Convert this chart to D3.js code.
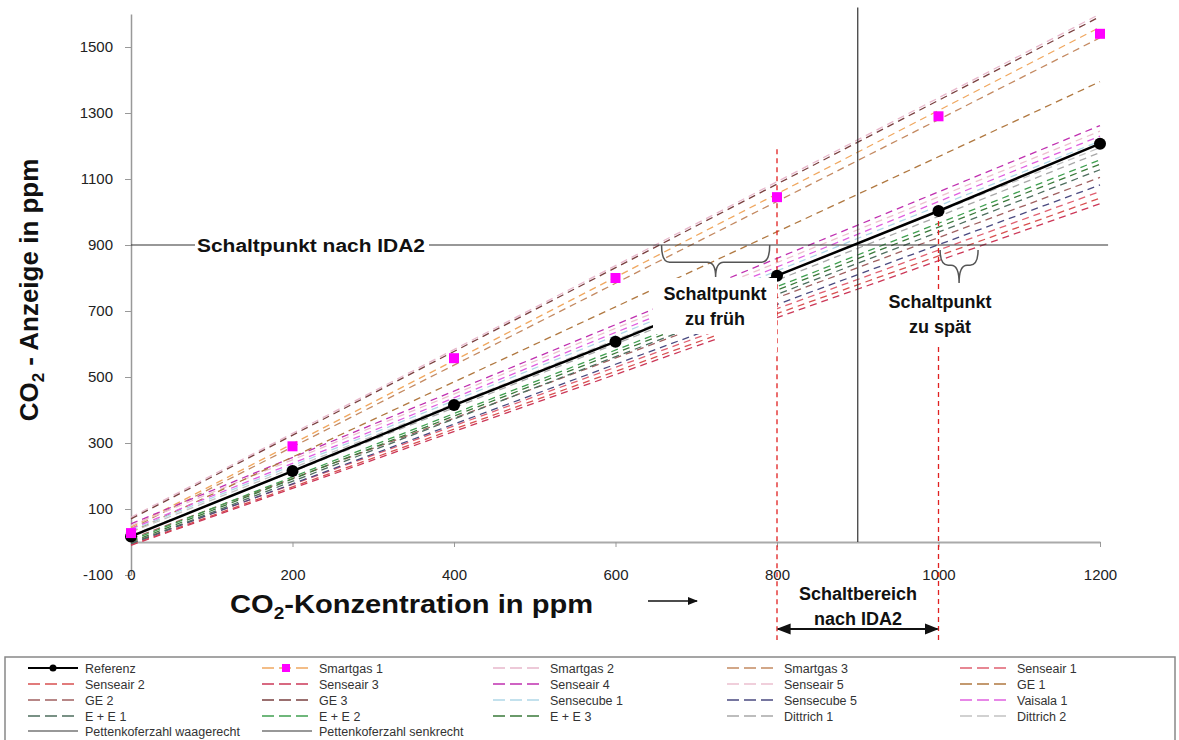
<!DOCTYPE html>
<html><head><meta charset="utf-8">
<script src="https://cdn.jsdelivr.net/npm/d3@7"></script>
<style>
body{margin:0;background:#fff;}
svg{display:block;font-family:"Liberation Sans",Arial,sans-serif;}
</style></head>
<body>
<svg id="chart" width="1179" height="740"></svg>
<script>
// ---------- DATA ----------
const xCategories = [0, 200, 400, 600, 800, 1000, 1200];
const yTickLabels = [-100, 100, 300, 500, 700, 900, 1100, 1300, 1500];
const referenzValues = [17, 215, 415, 607, 807, 1003, 1207];
const smartgas1Values = [27, 290, 557, 800, 1045, 1290, 1540];

// sensor trend lines: value at 0 ppm and at 1200 ppm
const sensorNames = ["Smartgas 1","Smartgas 2","Smartgas 3","Senseair 1","Senseair 2","Senseair 3","Senseair 4","Senseair 5","GE 1","GE 2","GE 3","Sensecube 1","Sensecube 5","Vaisala 1","E + E 1","E + E 2","E + E 3","Dittrich 1","Dittrich 2"];
const sensorAt0    = [45, 75, 40, -3, -8, -10, 55, 50, 30, 10, 70, 35, -5, 40, -5, 5, 0, 20, 30];
const sensorAt1200 = [1560, 1600, 1528, 1062, 1042, 1025, 1262, 1245, 1395, 1105, 1592, 1215, 1082, 1230, 1128, 1158, 1145, 1180, 1195];
const sensorColors = ["#f0a860","#e8b8cc","#c48a62","#e06070","#d85050","#cc3858","#c030b0","#ecc0d0","#b07840","#a06060","#7a4040","#b0d8e8","#4a4a80","#e060e0","#4e6e5e","#40a050","#3a7a3a","#a8a8a8","#c2c2c2"];

const pettenkofer = 900;
const schaltbereich = [800, 1000];
const legendNames = ["Referenz","Smartgas 1","Smartgas 2","Smartgas 3","Senseair 1","Senseair 2","Senseair 3","Senseair 4","Senseair 5","GE 1","GE 2","GE 3","Sensecube 1","Sensecube 5","Vaisala 1","E + E 1","E + E 2","E + E 3","Dittrich 1","Dittrich 2","Pettenkoferzahl waagerecht","Pettenkoferzahl senkrecht"];

// ---------- CHART ----------
const svg = d3.select("#chart");
const x = d3.scaleLinear().domain([0, 1200]).range([131, 1100]);
const y = d3.scaleLinear().domain([-100, 1600]).range([575, 14]);

const defs = svg.append("defs");
defs.append("marker").attr("id","ah").attr("viewBox","0 0 10 10").attr("refX",9).attr("refY",5)
  .attr("markerWidth",7).attr("markerHeight",7).attr("orient","auto-start-reverse")
  .append("path").attr("d","M0,1 L10,5 L0,9 z").attr("fill","#111");

const numFmt = d => String(d);
const yAxis = d3.axisLeft(y).tickValues(yTickLabels).tickSize(6).tickSizeOuter(0).tickPadding(12).tickFormat(numFmt);
const gy = svg.append("g").attr("transform",`translate(${x(0)},0)`).call(yAxis);
gy.select(".domain").attr("stroke","#999").attr("stroke-width",1.5);
gy.selectAll(".tick line").attr("stroke","#999");
gy.selectAll("text").attr("font-size",15).attr("fill","#222").attr("font-family","Liberation Sans, Arial");

const xAxis = d3.axisBottom(x).tickValues(xCategories).tickSize(5).tickSizeOuter(0).tickPadding(22).tickFormat(numFmt);
const gx = svg.append("g").attr("transform",`translate(0,${y(0)})`).call(xAxis);
gx.select(".domain").attr("stroke","#aaa").attr("stroke-width",2);
gx.selectAll(".tick line").attr("stroke","#999");
gx.selectAll("text").attr("font-size",15).attr("fill","#222").attr("font-family","Liberation Sans, Arial");

// sensor trend lines
const line = d3.line().x(d => x(d[0])).y(d => y(d[1]));
sensorNames.forEach((n, i) => {
  svg.append("path")
    .attr("d", line([[0, sensorAt0[i]], [1200, sensorAt1200[i]]]))
    .attr("fill","none").attr("stroke", sensorColors[i])
    .attr("stroke-width",1.3).attr("stroke-dasharray","7,5");
});

// Pettenkofer lines
svg.append("line").attr("x1",x(0)).attr("x2",x(1210)).attr("y1",y(pettenkofer)).attr("y2",y(pettenkofer))
  .attr("stroke","#333").attr("stroke-width",1.2);
svg.append("line").attr("x1",x(pettenkofer)).attr("x2",x(pettenkofer)).attr("y1",y(0)).attr("y2",y(1620))
  .attr("stroke","#333").attr("stroke-width",1.2);

// red dashed Schaltbereich lines
[[schaltbereich[0],1190],[schaltbereich[1],1000]].forEach(d => {
  svg.append("line").attr("x1",x(d[0])).attr("x2",x(d[0])).attr("y1",y(d[1])).attr("y2",640)
    .attr("stroke","#e02020").attr("stroke-width",1.3).attr("stroke-dasharray","5,4");
});

// Referenz
svg.append("path").attr("d", line(xCategories.map((v,i)=>[v, referenzValues[i]])))
  .attr("fill","none").attr("stroke","#000").attr("stroke-width",2.5);
svg.selectAll(".refpt").data(xCategories).enter().append("circle")
  .attr("cx", d => x(d)).attr("cy",(d,i)=>y(referenzValues[i])).attr("r",6).attr("fill","#000");

// Smartgas 1 squares
svg.selectAll(".sqpt").data(xCategories).enter().append("rect")
  .attr("x", d => x(d)-5).attr("y",(d,i)=>y(smartgas1Values[i])-5).attr("width",10).attr("height",10).attr("fill","#ff00ff");

// white boxes under annotation texts
svg.append("rect").attr("x",653).attr("y",278).attr("width",124).attr("height",56).attr("fill","#fff");
svg.append("rect").attr("x",717).attr("y",278).attr("width",60).attr("height",74).attr("fill","#fff");
svg.append("rect").attr("x",888).attr("y",290).attr("width",104).attr("height",56).attr("fill","#fff");
svg.append("rect").attr("x",195).attr("y",235).attr("width",234).attr("height",21).attr("fill","#fff");

// braces
function brace(x1, x2, y0, ym, yt) {
  const xm = (x1 + x2) / 2, q = 8;
  return `M${x1},${y0} Q${x1},${ym} ${x1+q},${ym} L${xm-q},${ym} Q${xm},${ym} ${xm},${yt} Q${xm},${ym} ${xm+q},${ym} L${x2-q},${ym} Q${x2},${ym} ${x2},${y0}`;
}
svg.append("path").attr("d", brace(x(657), x(791), y(900), y(848), y(803)))
  .attr("fill","none").attr("stroke","#555").attr("stroke-width",1.5);
svg.append("path").attr("d", brace(x(1002), x(1049), y(885), y(839), y(785)))
  .attr("fill","none").attr("stroke","#555").attr("stroke-width",1.5);

// annotation texts
const ann = (tx, ty, s, size) => svg.append("text").attr("x",tx).attr("y",ty).attr("text-anchor","middle")
  .attr("font-weight","bold").attr("font-size",size).attr("fill","#111").text(s);
svg.append("text").attr("x",197).attr("y",252).attr("font-weight","bold").attr("font-size",18)
  .attr("textLength",228).attr("lengthAdjust","spacingAndGlyphs").attr("fill","#111").text("Schaltpunkt nach IDA2");
ann(715, 300, "Schaltpunkt", 18);
ann(715, 325, "zu früh", 18);
ann(940, 308, "Schaltpunkt", 18);
ann(940, 333, "zu spät", 18);
ann(858, 600, "Schaltbereich", 18);
ann(858, 625, "nach IDA2", 18);

// Schaltbereich double arrow
svg.append("line").attr("x1",x(schaltbereich[0])+1).attr("x2",x(schaltbereich[1])-1).attr("y1",629).attr("y2",629)
  .attr("stroke","#111").attr("stroke-width",2).attr("marker-start","url(#ah)").attr("marker-end","url(#ah)");

// axis titles
const xt = svg.append("text").attr("transform","translate(230,613) scale(1.12,1)").attr("font-weight","bold").attr("font-size",26).attr("fill","#111");
xt.append("tspan").text("CO");
xt.append("tspan").attr("font-size",17).attr("dy",6).text("2");
xt.append("tspan").attr("dy",-6).text("-Konzentration in ppm");
svg.append("line").attr("x1",648).attr("x2",697).attr("y1",601).attr("y2",601)
  .attr("stroke","#111").attr("stroke-width",1.5).attr("marker-end","url(#ah)");

const yt = svg.append("text").attr("transform","translate(38,290) rotate(-90)").attr("text-anchor","middle")
  .attr("font-weight","bold").attr("font-size",26).attr("fill","#111");
yt.append("tspan").text("CO");
yt.append("tspan").attr("font-size",17).attr("dy",6).text("2");
yt.append("tspan").attr("dy",-6).text(" - Anzeige in ppm");

// ---------- LEGEND ----------
svg.append("rect").attr("x",5).attr("y",657).attr("width",1170).attr("height",95)
  .attr("fill","#fff").attr("stroke","#888").attr("stroke-width",1.5);
const colX = [28, 262, 493, 727, 960];
const rowY = [668, 684, 700, 716, 731];
legendNames.forEach((n, i) => {
  const cx = colX[i % 5], cy = rowY[Math.floor(i / 5)];
  const g = svg.append("g");
  if (n === "Referenz") {
    g.append("line").attr("x1",cx).attr("x2",cx+50).attr("y1",cy).attr("y2",cy).attr("stroke","#000").attr("stroke-width",2);
    g.append("circle").attr("cx",cx+25).attr("cy",cy).attr("r",3.5).attr("fill","#000");
  } else if (n.startsWith("Pettenkoferzahl")) {
    g.append("line").attr("x1",cx).attr("x2",cx+50).attr("y1",cy).attr("y2",cy).attr("stroke","#333").attr("stroke-width",1.2);
  } else {
    const si = sensorNames.indexOf(n);
    g.append("line").attr("x1",cx).attr("x2",cx+50).attr("y1",cy).attr("y2",cy)
      .attr("stroke",sensorColors[si]).attr("stroke-width",1.5).attr("stroke-dasharray","12,5");
    if (n === "Smartgas 1") g.append("rect").attr("x",cx+20).attr("y",cy-4).attr("width",8).attr("height",8).attr("fill","#ff00ff");
  }
  g.append("text").attr("x",cx+57).attr("y",cy+4.5).attr("font-size",12.5).attr("fill","#333").text(n);
});
</script>
</body></html>
